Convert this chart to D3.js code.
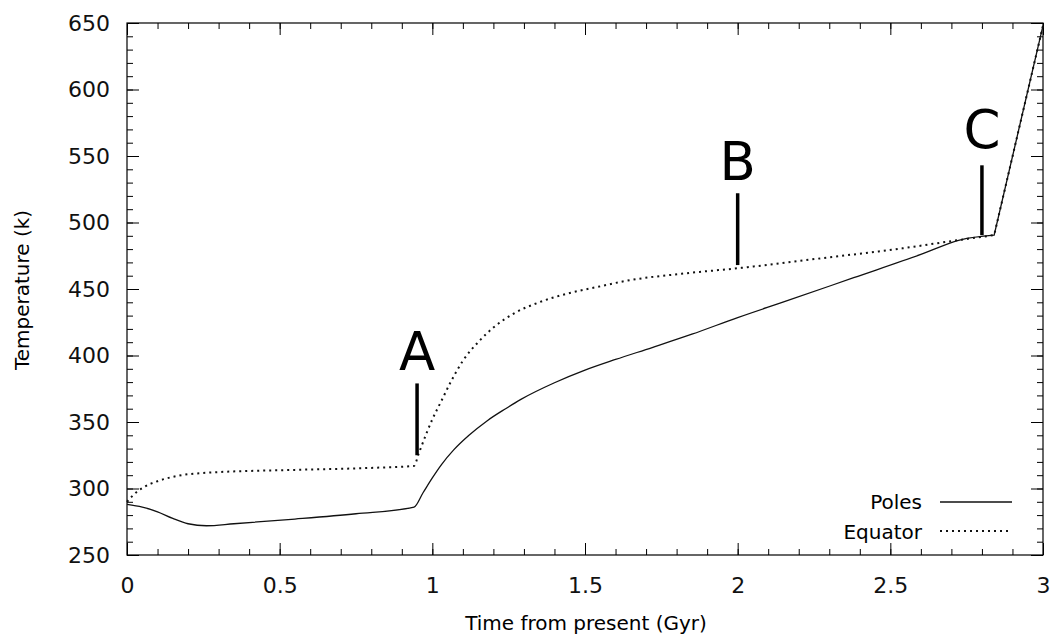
<!DOCTYPE html>
<html>
<head>
<meta charset="utf-8">
<script src="https://cdn.jsdelivr.net/npm/d3@7"></script>
<style>
  body { margin: 0; background: #fff; }
  svg { display: block; font-family: "DejaVu Sans", sans-serif; }
</style>
</head>
<body>
<div></div>
<script>
const width = 1057
const height = 639

// Poles (solid line)
const polesTime = [0, 0.05, 0.1, 0.15, 0.2, 0.26, 0.35, 0.55, 0.75, 0.94, 0.97, 1.0, 1.03, 1.07, 1.12, 1.18, 1.24, 1.29, 1.4, 1.5, 1.6, 1.72, 1.85, 2.0, 2.16, 2.38, 2.6, 2.73, 2.84, 3.0]
const polesTemp = [288, 286, 282.5, 277.5, 273.5, 272, 273.5, 277, 281, 286, 297, 308, 318, 329, 340, 351, 360, 367, 379.5, 389, 397, 406, 416, 428.5, 441, 458.5, 476, 487, 490.5, 648]

// Equator (dotted line)
const equatorTime = [0, 0.02, 0.055, 0.1, 0.164, 0.273, 0.55, 0.8, 0.94, 0.955, 0.98, 1.0, 1.03, 1.06, 1.1, 1.15, 1.2, 1.27, 1.35, 1.45, 1.55, 1.62, 1.83, 2.0, 2.27, 2.54, 2.73, 2.84, 3.0]
const equatorTemp = [290, 295, 301, 305.5, 309.4, 312, 314, 315.5, 317, 326, 341, 352, 366, 380, 396, 410, 421, 432, 440, 447, 452, 455.5, 461.8, 465.6, 473, 480.6, 487, 490.5, 648]

// event markers
const markLabels = ['A', 'B', 'C']
const markTime = [0.95, 2.0, 2.8]
const markLow = [325, 468, 490.5]
const markHigh = [379, 522, 543]
const labelTemp = [389, 532, 556]

const xTicks = [0, 0.5, 1, 1.5, 2, 2.5, 3]
const yTicks = [250, 300, 350, 400, 450, 500, 550, 600, 650]
const xMinor = d3.range(0, 31).map(d => d / 10)
const yMinor = d3.range(250, 651, 10)

const margin = { top: 23, right: 14, bottom: 84, left: 127 }
const plotW = width - margin.left - margin.right
const plotH = height - margin.top - margin.bottom

let svg = d3.select('div').append('svg')
    .attr('width', width)
    .attr('height', height)

let g = svg.append('g').attr('transform', `translate(${margin.left},${margin.top})`)

const x = d3.scaleLinear().domain([0, 3]).range([0, plotW])
const y = d3.scaleLinear().domain([250, 650]).range([plotH, 0])

// minor ticks, all four sides
g.append('g').attr('transform', `translate(0,${plotH})`)
    .call(d3.axisBottom(x).tickValues(xMinor).tickSize(-6).tickFormat(''))
g.append('g')
    .call(d3.axisTop(x).tickValues(xMinor).tickSize(-6).tickFormat(''))
g.append('g')
    .call(d3.axisLeft(y).tickValues(yMinor).tickSize(-6).tickFormat(''))
g.append('g').attr('transform', `translate(${plotW},0)`)
    .call(d3.axisRight(y).tickValues(yMinor).tickSize(-6).tickFormat(''))

// major ticks
g.append('g').attr('class', 'xaxis').attr('transform', `translate(0,${plotH})`)
    .call(d3.axisBottom(x).tickValues(xTicks).tickSize(-12).tickPadding(22).tickFormat(d3.format('')))
g.append('g')
    .call(d3.axisTop(x).tickValues(xTicks).tickSize(-12).tickFormat(''))
g.append('g').attr('class', 'yaxis')
    .call(d3.axisLeft(y).tickValues(yTicks).tickSize(-12).tickPadding(17))
g.append('g').attr('transform', `translate(${plotW},0)`)
    .call(d3.axisRight(y).tickValues(yTicks).tickSize(-12).tickFormat(''))

g.selectAll('.domain').remove()
g.selectAll('.tick line').attr('stroke', '#000').attr('stroke-width', 1)
g.selectAll('.xaxis text, .yaxis text')
    .style('font-size', '22px')
    .style('font-family', '"DejaVu Sans", sans-serif')
    .attr('fill', '#111')

g.append('rect')
    .attr('width', plotW)
    .attr('height', plotH)
    .attr('fill', 'none')
    .attr('stroke', '#000')
    .attr('stroke-width', 1.2)

// smooth curve up to the last knee, straight final climb
const smooth = d3.line().x(d => x(d[0])).y(d => y(d[1])).curve(d3.curveMonotoneX)
const straight = d3.line().x(d => x(d[0])).y(d => y(d[1]))
const pathFor = pts => smooth(pts.slice(0, pts.length - 1)) + straight(pts.slice(pts.length - 2)).replace(/^M[^L]*/, '')

const poles = polesTime.map((t, i) => [t, polesTemp[i]])
const equator = equatorTime.map((t, i) => [t, equatorTemp[i]])

g.append('path')
    .attr('d', pathFor(equator))
    .attr('fill', 'none')
    .attr('stroke', '#111')
    .attr('stroke-width', 2)
    .attr('stroke-dasharray', '2,4')

g.append('path')
    .attr('d', pathFor(poles))
    .attr('fill', 'none')
    .attr('stroke', '#111')
    .attr('stroke-width', 1.3)

// markers A, B, C
markLabels.forEach((m, i) => {
    g.append('line')
        .attr('x1', x(markTime[i])).attr('x2', x(markTime[i]))
        .attr('y1', y(markLow[i])).attr('y2', y(markHigh[i]))
        .attr('stroke', '#000')
        .attr('stroke-width', 3.5)
    g.append('text')
        .attr('x', x(markTime[i]))
        .attr('y', y(labelTemp[i]))
        .attr('text-anchor', 'middle')
        .style('font-size', '53px')
        .text(m)
})

// legend
const legend = g.append('g')
legend.append('text').attr('x', 795).attr('y', 479).attr('text-anchor', 'end')
    .style('font-size', '20px').text('Poles')
legend.append('line').attr('x1', 813).attr('x2', 885).attr('y1', 479).attr('y2', 479)
    .attr('stroke', '#111').attr('stroke-width', 1.3)
legend.append('text').attr('x', 795).attr('y', 509).attr('text-anchor', 'end')
    .style('font-size', '20px').text('Equator')
legend.append('line').attr('x1', 813).attr('x2', 885).attr('y1', 508).attr('y2', 508)
    .attr('stroke', '#111').attr('stroke-width', 2).attr('stroke-dasharray', '2,4')
legend.selectAll('text').attr('dy', '0.35em')

// axis titles
svg.append('text')
    .attr('x', margin.left + plotW / 2 + 1)
    .attr('y', 630)
    .attr('text-anchor', 'middle')
    .style('font-size', '20px')
    .text('Time from present (Gyr)')

svg.append('text')
    .attr('transform', 'translate(29,290) rotate(-90)')
    .attr('text-anchor', 'middle')
    .style('font-size', '20px')
    .text('Temperature (k)')
</script>
</body>
</html>
